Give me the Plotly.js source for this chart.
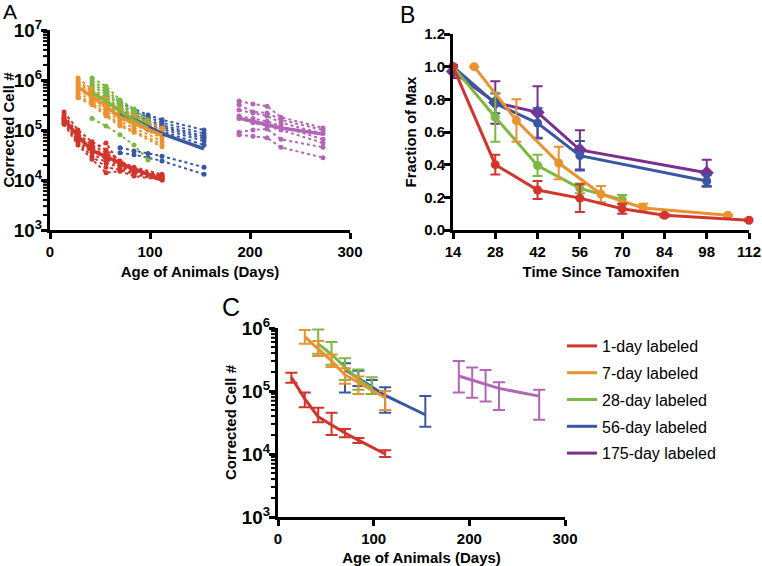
<!DOCTYPE html>
<html><head><meta charset="utf-8">
<script src="https://cdn.plot.ly/plotly-3.0.1.min.js"></script>
<style>html,body{margin:0;padding:0;background:#fff}#chart{width:762px;height:566px}</style>
</head><body><div id="chart"></div>
<script>
// ---------- Group names ----------
const groupNames = ['1-day labeled','7-day labeled','28-day labeled','56-day labeled','175-day labeled'];

// ---------- Panel A / C : ages (days) ----------
const ageRed    = [14, 28, 42, 56, 70, 84, 112];
const ageOrange = [28, 42, 56, 70, 84, 112];
const ageGreen  = [42, 56, 70, 84, 98];
const ageBlue   = [70, 84, 98, 112, 154];
const agePurple = [189, 203, 217, 231, 273];

// ---------- Panel A : individual animals ----------
const redAnimals = [
  [2.3e5, 1.0e5, 5.8e4, 4.0e4, 2.4e4, 1.8e4, 1.3e4],
  [2.0e5, 8.5e4, 5.0e4, 3.5e4, 2.2e4, 1.7e4, 1.2e4],
  [1.8e5, 7.5e4, 4.5e4, 3.0e4, 2.0e4, 1.6e4, 1.15e4],
  [1.6e5, 6.8e4, 4.0e4, 2.6e4, 1.9e4, 1.5e4, 1.1e4],
  [1.5e5, 6.0e4, 3.5e4, 2.2e4, 1.8e4, 1.4e4, 1.05e4],
  [1.4e5, 5.5e4, 3.0e4, 1.8e4, 1.6e4, 1.3e4, 1.0e4],
  [1.3e5, 5.0e4, 2.6e4, 1.4e4, 1.5e4, 1.2e4, 1.0e4],
  [1.7e5, 7.0e4, 4.2e4, 5.5e4, 2.1e4, 1.55e4, 1.2e4]
];
const orangeAnimals = [
  [1.1e6, 6.5e5, 4.2e5, 2.6e5, 1.9e5, 1.1e5],
  [9.5e5, 6.0e5, 3.8e5, 2.4e5, 1.7e5, 1.0e5],
  [8.5e5, 5.5e5, 3.4e5, 2.1e5, 1.6e5, 9.0e4],
  [7.5e5, 5.0e5, 3.0e5, 1.9e5, 1.4e5, 8.0e4],
  [6.5e5, 4.5e5, 2.7e5, 1.7e5, 1.3e5, 7.0e4],
  [5.5e5, 4.0e5, 2.4e5, 1.5e5, 1.1e5, 6.0e4],
  [4.8e5, 3.5e5, 2.1e5, 1.3e5, 9.5e4, 5.2e4],
  [4.4e5, 3.2e5, 1.9e5, 1.2e5, 9.0e4, 4.6e4]
];
const greenAnimals = [
  [1.1e6, 7.5e5, 4.0e5, 2.6e5, 1.6e5],
  [9.5e5, 6.5e5, 3.6e5, 2.3e5, 1.5e5],
  [8.5e5, 5.8e5, 3.3e5, 2.1e5, 1.4e5],
  [7.5e5, 5.2e5, 3.0e5, 1.9e5, 1.3e5],
  [6.5e5, 4.6e5, 2.7e5, 1.7e5, 1.2e5],
  [5.5e5, 4.0e5, 2.4e5, 1.5e5, 1.1e5],
  [4.8e5, 3.4e5, 2.1e5, 1.35e5, 1.0e5],
  [1.7e5, 1.2e5, 8.0e4, 5.0e4, 2.5e4]
];
const blueAnimals = [
  [3.5e5, 2.6e5, 2.0e5, 1.6e5, 1.0e5],
  [3.0e5, 2.3e5, 1.8e5, 1.4e5, 8.5e4],
  [2.6e5, 2.0e5, 1.6e5, 1.25e5, 7.5e4],
  [2.3e5, 1.8e5, 1.45e5, 1.15e5, 6.8e4],
  [2.0e5, 1.6e5, 1.3e5, 1.05e5, 6.0e4],
  [1.8e5, 1.45e5, 1.15e5, 9.5e4, 5.0e4],
  [4.4e4, 3.8e4, 3.4e4, 3.0e4, 1.8e4],
  [3.5e4, 3.2e4, 2.8e4, 2.4e4, 1.3e4]
];
const purpleAnimals = [
  [3.8e5, 3.3e5, 3.0e5, 1.8e5, 1.1e5],
  [3.2e5, 2.3e5, 2.2e5, 1.6e5, 1.0e5],
  [2.5e5, 2.2e5, 1.9e5, 1.4e5, 8.5e4],
  [1.9e5, 1.7e5, 1.5e5, 1.2e5, 6.5e4],
  [1.7e5, 1.4e5, 1.2e5, 1.0e5, 5.5e4],
  [9.0e4, 1.0e5, 1.05e5, 6.5e4, 4.5e4],
  [8.0e4, 7.5e4, 7.0e4, 4.5e4, 2.8e4]
];

// ---------- Panel A / C : group means and error limits ----------
const redMean    = [1.65e5, 7.5e4, 3.9e4, 2.9e4, 2.15e4, 1.66e4, 1.0e4];
const redHi      = [1.95e5, 9.5e4, 5.4e4, 4.5e4, 2.5e4, 1.8e4, 1.15e4];
const redLo      = [1.35e5, 5.5e4, 3.2e4, 2.0e4, 1.85e4, 1.5e4, 0.9e4];
const orangeMean = [7.2e5, 4.6e5, 3.0e5, 1.8e5, 1.35e5, 7.8e4];
const orangeHi   = [9.3e5, 6.2e5, 3.8e5, 2.3e5, 1.7e5, 1.0e5];
const orangeLo   = [5.6e5, 3.6e5, 2.4e5, 1.3e5, 9.0e4, 5.0e4];
const greenMean  = [5.6e5, 3.8e5, 2.4e5, 1.55e5, 1.1e5];
const greenHi    = [9.5e5, 6.0e5, 3.3e5, 2.2e5, 1.65e5];
const greenLo    = [3.9e5, 2.6e5, 1.5e5, 1.05e5, 9.0e4];
const blueMean   = [2.2e5, 1.6e5, 1.15e5, 8.5e4, 4.2e4];
const blueHi     = [2.75e5, 2.1e5, 1.5e5, 1.15e5, 8.3e4];
const blueLo     = [9.5e4, 1.2e5, 9.0e4, 4.5e4, 2.7e4];
const purpleMean = [1.73e5, 1.5e5, 1.3e5, 1.1e5, 8.3e4];
const purpleHi   = [3.0e5, 2.35e5, 2.15e5, 1.38e5, 1.05e5];
const purpleLo   = [9.5e4, 7.8e4, 6.8e4, 5.0e4, 3.5e4];

// ---------- Panel B : fraction of max vs time since tamoxifen ----------
const tRed    = [14, 28, 42, 56, 70, 84, 112];
const fRed    = [1.0, 0.40, 0.245, 0.195, 0.13, 0.09, 0.06];
const eRed    = [0, 0.06, 0.055, 0.085, 0.03, 0.01, 0.005];
const tOrange = [21, 35, 49, 63, 77, 105];
const fOrange = [1.0, 0.67, 0.41, 0.22, 0.135, 0.09];
const eOrange = [0, 0.13, 0.10, 0.05, 0.025, 0.005];
const tGreen  = [14, 28, 42, 56, 70];
const fGreen  = [1.0, 0.69, 0.395, 0.255, 0.185];
const eGreen  = [0, 0.15, 0.065, 0.03, 0.03];
const tBlue   = [14, 28, 42, 56, 98];
const fBlue   = [1.0, 0.775, 0.655, 0.455, 0.30];
const eBlue   = [0, 0.06, 0.09, 0.09, 0.035];
const tPurple = [14, 28, 42, 56, 98];
const fPurple = [0.97, 0.78, 0.72, 0.49, 0.35];
const ePurple = [0.04, 0.13, 0.16, 0.12, 0.08];

// ---------- Tick labels ----------
const ticksAgeX = [0, 100, 200, 300];
const ticksTimeX = [14, 28, 42, 56, 70, 84, 98, 112];
const ticksFracY = [0, 0.2, 0.4, 0.6, 0.8, 1.0, 1.2];

// ---------- Styling ----------
const RED='#D1352B', ORANGE='#E8932F', GREEN='#7DB843', BLUE='#3A57A4',
      PURPLE_L='#B266B6', PURPLE_D='#7B2F8E';
const FONT='Liberation Sans, Arial, Helvetica, sans-serif';
const W=762, H=566;
const px=v=>v/W, py=v=>1-v/H;

// plot-area boxes (pixels) of the three panels
const boxA={l:50, r:350, t:30, b:230};
const boxB={l:453, r:749, t:34, b:230};
const boxC={l:278, r:565, t:328, b:517};

const traces = [];

function addAnimals(ages, animals, color){
  animals.forEach(vals=>{
    traces.push({x:ages, y:vals, xaxis:'x', yaxis:'y', mode:'lines+markers',
      line:{color:color, width:2, dash:'dot'}, marker:{color:color, size:5},
      showlegend:false, hoverinfo:'skip', cliponaxis:false});
  });
}
function addMeanA(ages, mean, color){
  traces.push({x:ages, y:mean, xaxis:'x', yaxis:'y', mode:'lines',
    line:{color:color, width:3.5}, showlegend:false, hoverinfo:'skip'});
}
addAnimals(agePurple, purpleAnimals, PURPLE_L);
addAnimals(ageBlue, blueAnimals, BLUE);
addAnimals(ageGreen, greenAnimals, GREEN);
addAnimals(ageOrange, orangeAnimals, ORANGE);
addAnimals(ageRed, redAnimals, RED);
addMeanA(agePurple, purpleMean, PURPLE_L);
addMeanA(ageBlue, blueMean, BLUE);
addMeanA(ageGreen, greenMean, GREEN);
addMeanA(ageOrange, orangeMean, ORANGE);
addMeanA(ageRed, redMean, RED);

function addB(t, f, e, color, symbol){
  traces.push({x:t, y:f, xaxis:'x2', yaxis:'y2', mode:'lines+markers',
    line:{color:color, width:3}, marker:{color:color, size:symbol==='diamond'?11:9, symbol:symbol},
    error_y:{type:'data', array:e, visible:true, color:color, thickness:2, width:5},
    showlegend:false, hoverinfo:'skip', cliponaxis:false});
}
addB(tPurple, fPurple, ePurple, PURPLE_D, 'diamond');
addB(tBlue, fBlue, eBlue, BLUE, 'circle');
addB(tGreen, fGreen, eGreen, GREEN, 'circle');
addB(tOrange, fOrange, eOrange, ORANGE, 'circle');
addB(tRed, fRed, eRed, RED, 'circle');

function addC(ages, mean, hi, lo, color){
  traces.push({x:ages, y:mean, xaxis:'x3', yaxis:'y3', mode:'lines',
    line:{color:color, width:3},
    error_y:{type:'data', symmetric:false, visible:true,
      array:hi.map((h,i)=>h-mean[i]), arrayminus:lo.map((l,i)=>mean[i]-l),
      color:color, thickness:2, width:6},
    showlegend:false, hoverinfo:'skip', cliponaxis:false});
}
addC(agePurple, purpleMean, purpleHi, purpleLo, PURPLE_L);
addC(ageBlue, blueMean, blueHi, blueLo, BLUE);
addC(ageGreen, greenMean, greenHi, greenLo, GREEN);
addC(ageOrange, orangeMean, orangeHi, orangeLo, ORANGE);
addC(ageRed, redMean, redHi, redLo, RED);

// Legend entries (line samples only)
[RED, ORANGE, GREEN, BLUE, PURPLE_D].forEach((c,i)=>{
  traces.push({x:[null], y:[null], xaxis:'x3', yaxis:'y3', mode:'lines',
    line:{color:c, width:3}, name:groupNames[i], legendgroup:'g'+i, showlegend:true});
});

// minor log ticks (2..9 x 10^k) as short lines to the left of a log y axis
function minorLogShapes(box, lo, hi){
  const out=[];
  for(let k=lo;k<hi;k++) for(let m=2;m<=9;m++){
    const frac=(Math.log10(m*Math.pow(10,k))-lo)/(hi-lo);
    const yp=box.b-frac*(box.b-box.t);
    out.push({type:'line', xref:'paper', yref:'paper', x0:px(box.l-2), x1:px(box.l-7),
      y0:py(yp), y1:py(yp), line:{color:'#000', width:2}, layer:'above'});
  }
  return out;
}

const tickfont={family:FONT, size:15, color:'#000', weight:'bold'};
const titlefont={family:FONT, size:15, color:'#000', weight:'bold'};
const baseAxis={showgrid:false, zeroline:false, showline:true, linecolor:'#000', linewidth:3,
  ticks:'outside', ticklen:6, tickwidth:3, tickcolor:'#000', tickfont:tickfont};

const layout={
  width:W, height:H, margin:{l:0,r:0,t:0,b:0}, paper_bgcolor:'#fff', plot_bgcolor:'rgba(0,0,0,0)',
  font:{family:FONT, color:'#000'},
  xaxis:Object.assign({}, baseAxis, {domain:[px(boxA.l),px(boxA.r)], anchor:'y', range:[0,300],
    tickmode:'array', tickvals:ticksAgeX,
    title:{text:'Age of Animals (Days)', font:titlefont, standoff:8}}),
  yaxis:Object.assign({}, baseAxis, {domain:[py(boxA.b),py(boxA.t)], anchor:'x', type:'log', range:[3,7],
    dtick:1, exponentformat:'power', showexponent:'all', ticklabelstandoff:-4,
    title:{text:'Corrected Cell #', font:titlefont, standoff:6}}),
  xaxis2:Object.assign({}, baseAxis, {domain:[px(boxB.l),px(boxB.r)], anchor:'y2', range:[14,112],
    tickmode:'array', tickvals:ticksTimeX,
    title:{text:'Time Since Tamoxifen', font:titlefont, standoff:8}}),
  yaxis2:Object.assign({}, baseAxis, {domain:[py(boxB.b),py(boxB.t)], anchor:'x2', range:[0,1.2],
    tickmode:'array', tickvals:ticksFracY, tickformat:'.1f', ticklabelstandoff:-4,
    title:{text:'Fraction of Max', font:titlefont, standoff:4}}),
  xaxis3:Object.assign({}, baseAxis, {domain:[px(boxC.l),px(boxC.r)], anchor:'y3', range:[0,300],
    tickmode:'array', tickvals:ticksAgeX,
    title:{text:'Age of Animals (Days)', font:titlefont, standoff:8}}),
  yaxis3:Object.assign({}, baseAxis, {domain:[py(boxC.b),py(boxC.t)], anchor:'x3', type:'log', range:[3,6],
    dtick:1, exponentformat:'power', showexponent:'all', ticklabelstandoff:-4,
    title:{text:'Corrected Cell #', font:titlefont, standoff:2}}),
  shapes:[].concat(minorLogShapes(boxA,3,7), minorLogShapes(boxC,3,6)),
  showlegend:true,
  legend:{x:px(562), y:py(329), xanchor:'left', yanchor:'top', bgcolor:'rgba(0,0,0,0)',
    font:{family:FONT, size:16, color:'#000'}, tracegroupgap:3, itemwidth:30},
  annotations:[
    {text:'A', x:px(1), y:py(-2), xref:'paper', yref:'paper', xanchor:'left', yanchor:'top', showarrow:false, font:{family:FONT, size:21, color:'#000'}},
    {text:'B', x:px(398), y:py(0), xref:'paper', yref:'paper', xanchor:'left', yanchor:'top', showarrow:false, font:{family:FONT, size:23, color:'#000'}},
    {text:'C', x:px(220), y:py(291), xref:'paper', yref:'paper', xanchor:'left', yanchor:'top', showarrow:false, font:{family:FONT, size:25, color:'#000'}}
  ]
};

Plotly.newPlot('chart', traces, layout, {displayModeBar:false, staticPlot:true});
</script></body></html>
